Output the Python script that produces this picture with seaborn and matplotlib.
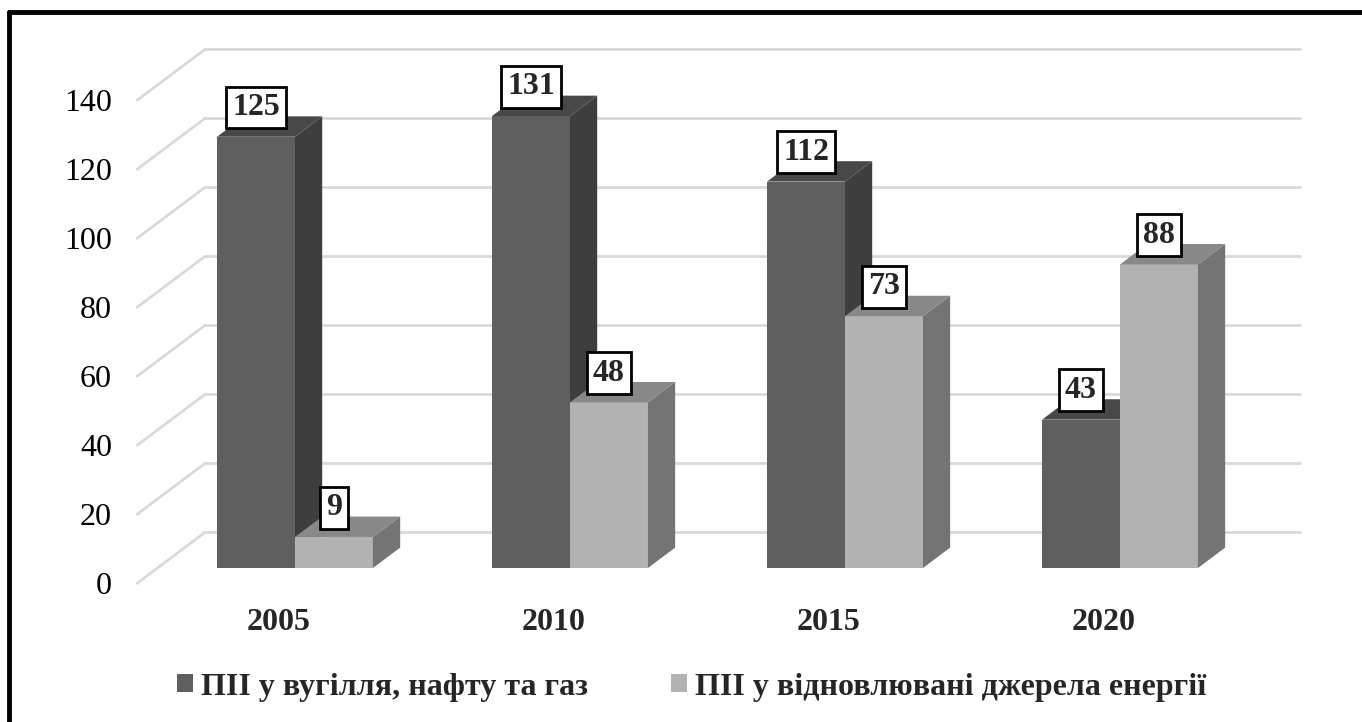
import matplotlib
matplotlib.use('Agg')
import matplotlib.pyplot as plt
from matplotlib.patches import Polygon, Patch
import pandas as pd
import seaborn as sns

# Data
years = ['2005', '2010', '2015', '2020']
fossil = [125, 131, 112, 43]
renewable = [9, 48, 73, 88]
series_names = ['ПІІ у вугілля, нафту та газ', 'ПІІ у відновлювані джерела енергії']
y_ticks = [0, 20, 40, 60, 80, 100, 120, 140]

front_colors = ['#5f5f5f', '#b2b2b2']
side_colors = ['#3e3e3e', '#747474']
top_colors = ['#484848', '#888888']

df = pd.DataFrame({
    'year': years * 2,
    'series': [series_names[0]] * 4 + [series_names[1]] * 4,
    'value': fossil + renewable,
})

sns.set_theme(style='white')
plt.rcParams['font.family'] = ['Liberation Serif', 'DejaVu Serif']

fig = plt.figure(figsize=(13.62, 7.22), dpi=100)
ax = fig.add_axes([0, 0, 1, 1])

# pixel -> data mapping: 275 px per category, 3.45 px per unit
PX_X, PX_Y = 275.0, 3.45
X0, Y0 = 295.0, 568.0

# oblique depth vector (one full depth of the floor)
DX, DY = 68 / PX_X, 51 / PX_Y
floor_front = -0.3
bar_back = 0.4
wall = 0.7

sns.barplot(data=df, x='year', y='value', hue='series', palette=front_colors,
            width=0.567, saturation=1, legend=False, ax=ax)

# back wall and left-side grid lines
for v in y_ticks:
    x_left = -0.5
    ax.plot([x_left + floor_front * DX, x_left + wall * DX],
            [v + floor_front * DY, v + wall * DY], color='#d9d9d9', lw=2, zorder=1)
    ax.plot([x_left + wall * DX, 3.48 + wall * DX],
            [v + wall * DY, v + wall * DY], color='#d9d9d9', lw=2, zorder=1)
    ax.text((112 - X0) / PX_X, v + floor_front * DY - 1, str(v), ha='right', va='center',
            fontsize=23, color='black')

bars = [p for p in ax.patches if p.get_height() > 0]
for k, p in enumerate(bars):
    s = 0 if k < 4 else 1
    p.set_zorder(3 + 2 * s)
    p.set_edgecolor('none')
    x, w, h = p.get_x(), p.get_width(), p.get_height()
    bx, by = bar_back * DX, bar_back * DY
    side = Polygon([(x + w, 0), (x + w + bx, by), (x + w + bx, h + by), (x + w, h)],
                   closed=True, facecolor=side_colors[s], edgecolor='none', zorder=3 + 2 * s)
    top = Polygon([(x, h), (x + w, h), (x + w + bx, h + by), (x + bx, h + by)],
                  closed=True, facecolor=top_colors[s], edgecolor='none', zorder=3 + 2 * s)
    ax.add_patch(side)
    ax.add_patch(top)
    ax.text(x + w / 2, h + 8.5, f'{h:.0f}', ha='center', va='center', fontsize=23,
            fontweight='bold', zorder=10,
            bbox=dict(boxstyle='square,pad=0.2', facecolor='white', edgecolor='black', lw=2))

for i, yr in enumerate(years):
    ax.text(i - 16 / PX_X, (Y0 - 623) / PX_Y, yr, ha='center', va='center',
            fontsize=23, fontweight='bold')

ax.set_xlim(-X0 / PX_X, (1362 - X0) / PX_X)
ax.set_ylim((Y0 - 722) / PX_Y, Y0 / PX_Y)
ax.set_axis_off()

handles = [Patch(facecolor=c, edgecolor='none') for c in front_colors]
fig.legend(handles, series_names, loc='center', bbox_to_anchor=(692 / 1362, 1 - 687 / 722),
           ncol=2, frameon=False, prop={'size': 23, 'weight': 'bold'},
           handlelength=0.5, handleheight=0.5, handletextpad=0.25, columnspacing=2.6)

# outer frame (top and left edges visible)
fig.add_artist(plt.Line2D([9 / 1362, 1], [1 - 12 / 722, 1 - 12 / 722], color='black', lw=3.5))
fig.add_artist(plt.Line2D([9 / 1362, 9 / 1362], [0, 1 - 12 / 722], color='black', lw=3.5))

fig.savefig('out.png', dpi=100)
